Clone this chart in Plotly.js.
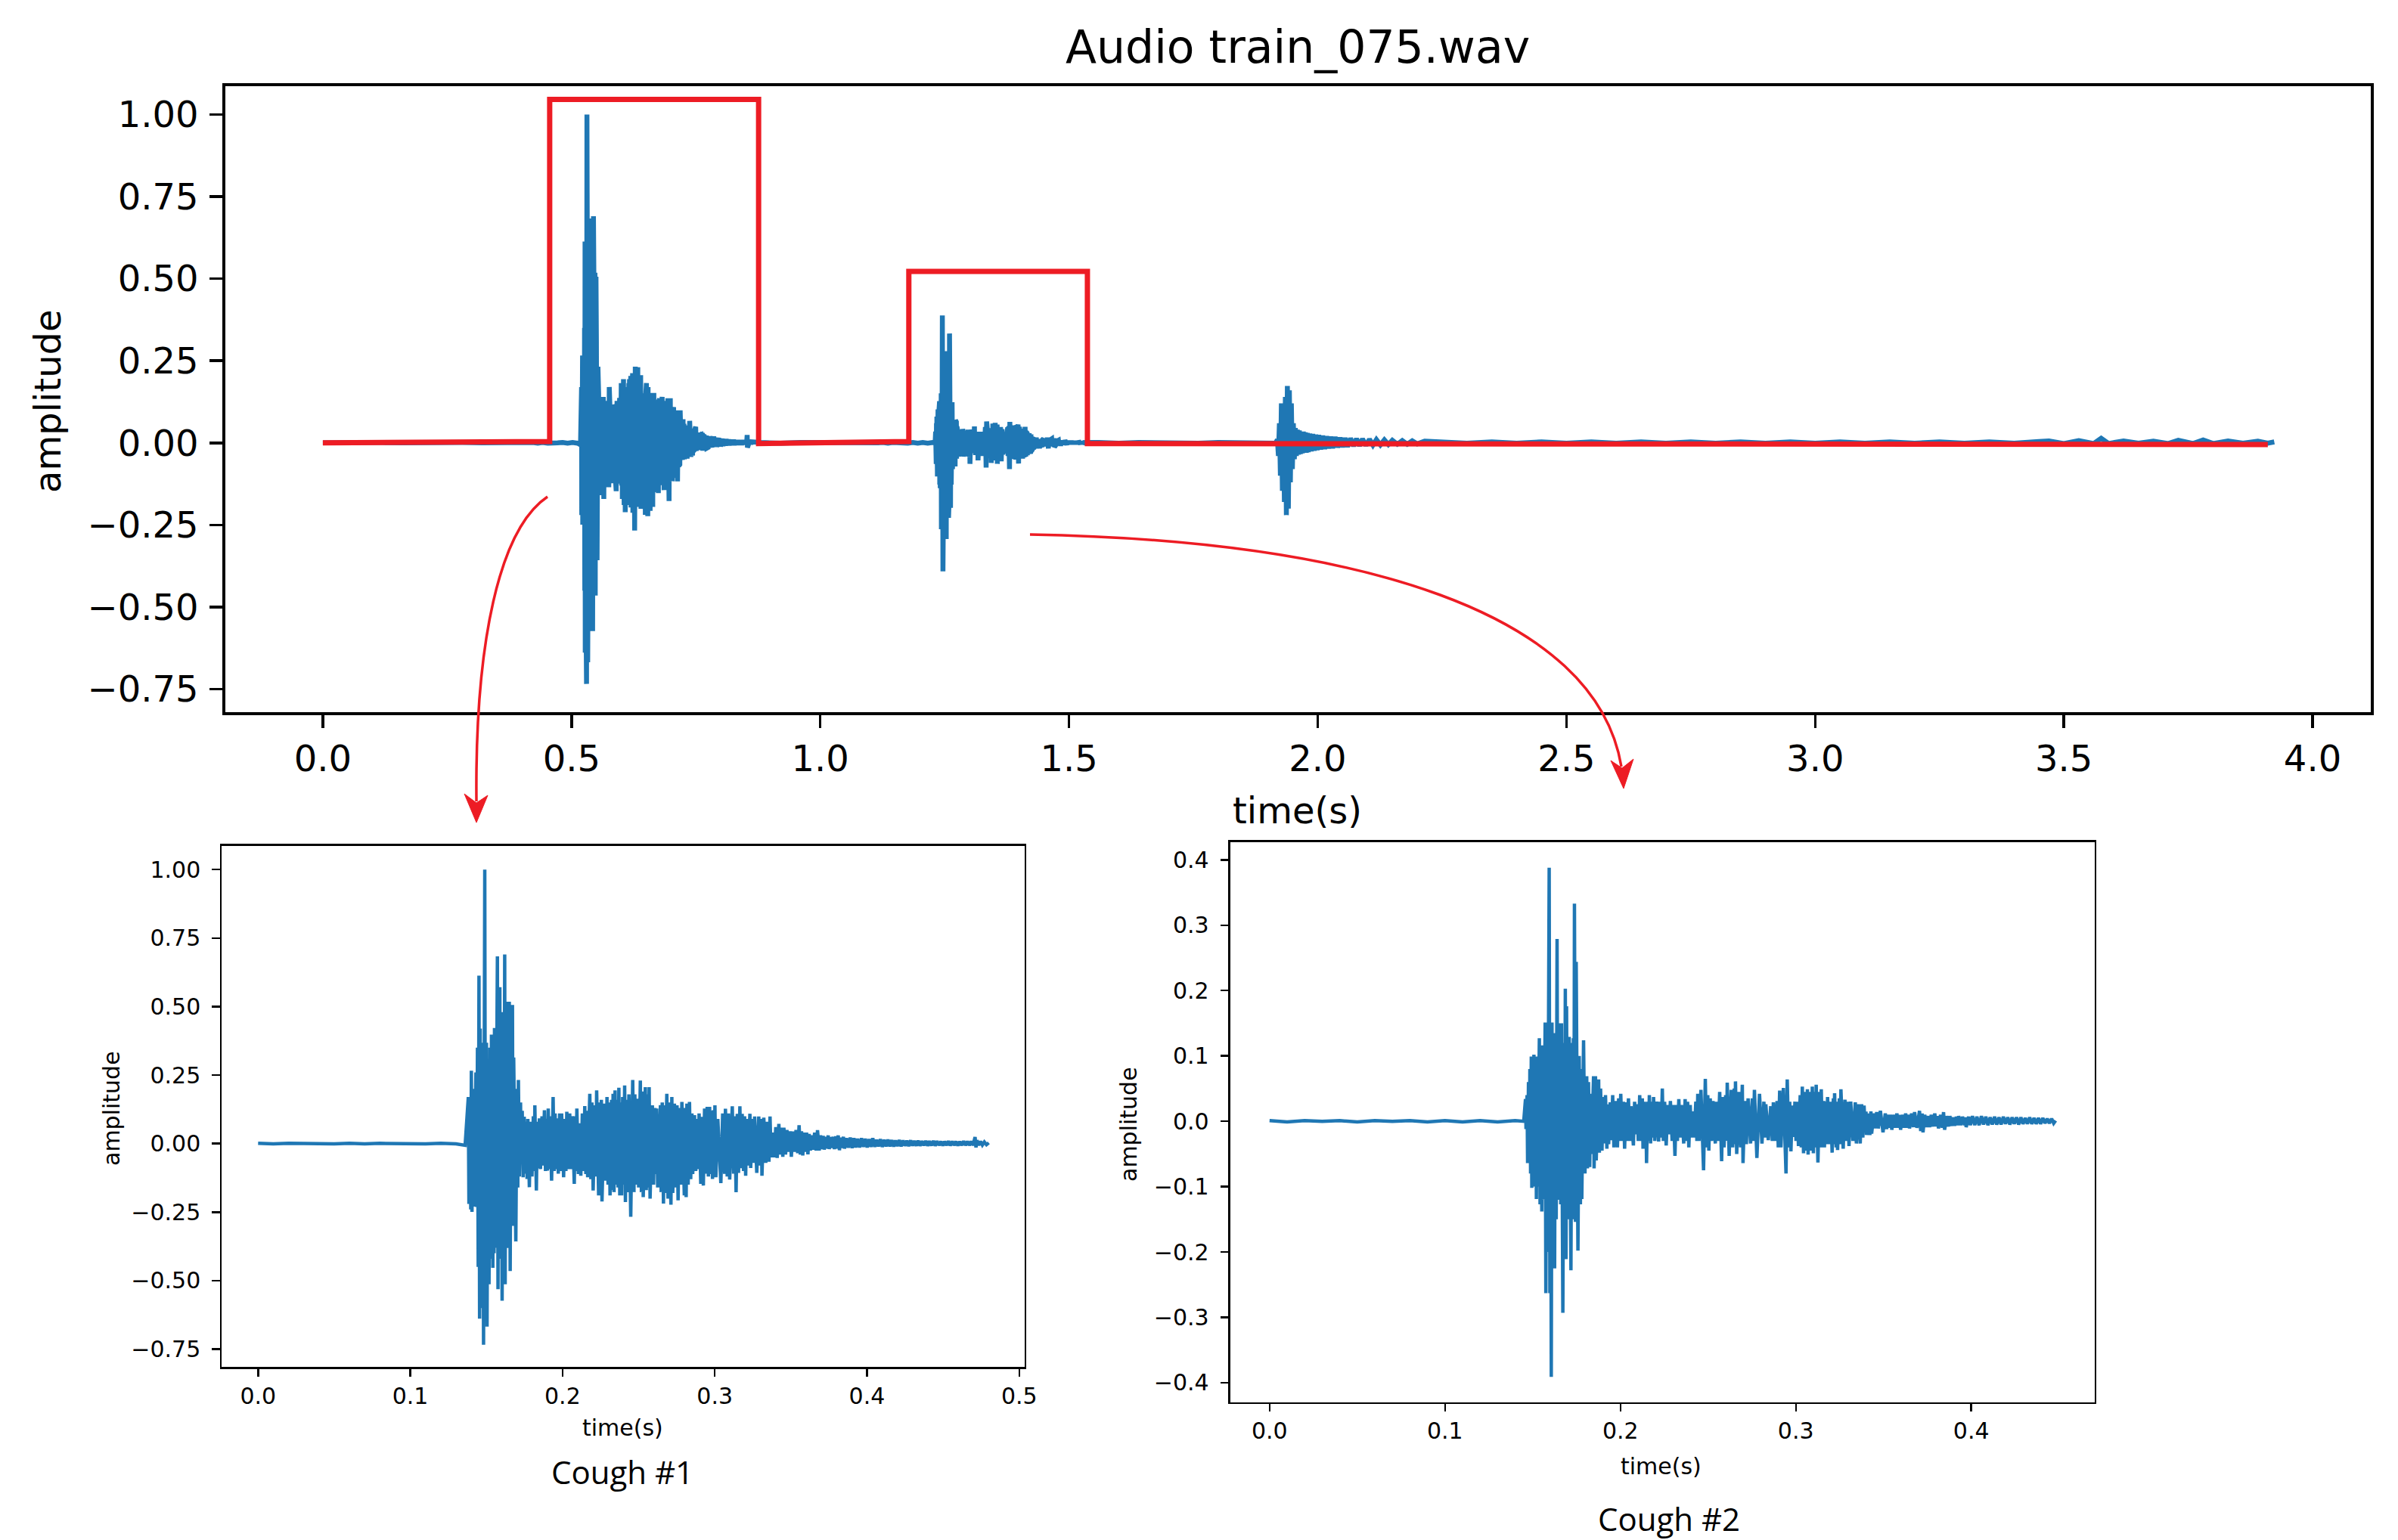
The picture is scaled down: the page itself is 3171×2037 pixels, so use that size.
<!DOCTYPE html>
<html>
<head>
<meta charset="utf-8">
<script src="https://cdn.plot.ly/plotly-3.0.1.min.js"></script>
<style>
  html, body { margin: 0; padding: 0; background: #fff; }
  #chart { width: 3171px; height: 2037px; }
</style>
</head>
<body>
<div id="chart"></div>
<script>
// ---- data ----

// cough #1 clip (seconds from clip start, amplitude)
const cough1Time = [
  0.000, 0.010, 0.020, 0.030, 0.040, 0.050, 0.060, 0.070, 0.080, 0.090,
  0.100, 0.110, 0.120, 0.130, 0.1360, 0.1381, 0.1385, 0.1393, 0.1397, 0.1401,
  0.1405, 0.1414, 0.1418, 0.1431, 0.1436, 0.1441, 0.1446, 0.1451, 0.1455, 0.1459,
  0.1463, 0.1467, 0.1474, 0.1477, 0.1481, 0.1489, 0.1494, 0.1500, 0.1504, 0.1510,
  0.1517, 0.1523, 0.1530, 0.1533, 0.1542, 0.1546, 0.1550, 0.1553, 0.1560, 0.1572,
  0.1576, 0.1580, 0.1584, 0.1588, 0.1592, 0.1597, 0.1603, 0.1610, 0.1615, 0.1620,
  0.1623, 0.1628, 0.1633, 0.1640, 0.1646, 0.1650, 0.1656, 0.1663, 0.1668, 0.1671,
  0.1675, 0.1679, 0.1693, 0.1700, 0.1706, 0.1710, 0.1716, 0.1724, 0.1728, 0.1735,
  0.1741, 0.1748, 0.1756, 0.1762, 0.1767, 0.1772, 0.1782, 0.1790, 0.1799, 0.1808,
  0.1815, 0.1818, 0.1828, 0.1834, 0.1840, 0.1848, 0.1855, 0.1865, 0.1872, 0.1881,
  0.1888, 0.1895, 0.1900, 0.1906, 0.1912, 0.1918, 0.1928, 0.1938, 0.1945, 0.1951,
  0.1958, 0.1964, 0.1972, 0.1981, 0.1988, 0.1994, 0.2007, 0.2015, 0.2022, 0.2028,
  0.2040, 0.2047, 0.2055, 0.2064, 0.2077, 0.2083, 0.2088, 0.2094, 0.2104, 0.2113,
  0.2120, 0.2130, 0.2138, 0.2146, 0.2153, 0.2160, 0.2165, 0.2179, 0.2186, 0.2193,
  0.2201, 0.2213, 0.2218, 0.2224, 0.2237, 0.2243, 0.2249, 0.2255, 0.2259, 0.2275,
  0.2285, 0.2292, 0.2299, 0.2306, 0.2312, 0.2322, 0.2328, 0.2332, 0.2338, 0.2345,
  0.2352, 0.2357, 0.2365, 0.2370, 0.2376, 0.2383, 0.2388, 0.2395, 0.2402, 0.2408,
  0.2413, 0.2420, 0.2425, 0.2436, 0.2448, 0.2461, 0.2469, 0.2475, 0.2481, 0.2494,
  0.2500, 0.2511, 0.2518, 0.2524, 0.2530, 0.2544, 0.2550, 0.2557, 0.2562, 0.2569,
  0.2575, 0.2590, 0.2598, 0.2607, 0.2612, 0.2618, 0.2625, 0.2643, 0.2648, 0.2655,
  0.2663, 0.2668, 0.2673, 0.2685, 0.2693, 0.2700, 0.2712, 0.2718, 0.2724, 0.2735,
  0.2745, 0.2752, 0.2759, 0.2768, 0.2776, 0.2784, 0.2800, 0.2805, 0.2812, 0.2817,
  0.2825, 0.2834, 0.2842, 0.2850, 0.2855, 0.2867, 0.2875, 0.2883, 0.2890, 0.2897,
  0.2908, 0.2916, 0.2925, 0.2933, 0.2941, 0.2950, 0.2958, 0.2966, 0.2972, 0.2978,
  0.2985, 0.2991, 0.2996, 0.3001, 0.3007, 0.3020, 0.3040, 0.3052, 0.3065, 0.3070,
  0.3082, 0.3090, 0.3098, 0.3115, 0.3124, 0.3131, 0.3140, 0.3148, 0.3156, 0.3165,
  0.3172, 0.3180, 0.3189, 0.3196, 0.3203, 0.3210, 0.3216, 0.3231, 0.3236, 0.3246,
  0.3256, 0.3262, 0.3276, 0.3289, 0.3296, 0.3305, 0.3310, 0.3322, 0.3335, 0.3342,
  0.3356, 0.3363, 0.3370, 0.3380, 0.3390, 0.3401, 0.3410, 0.3421, 0.3430, 0.3438,
  0.3447, 0.3454, 0.3465, 0.3474, 0.3483, 0.3496, 0.3503, 0.3512, 0.3522, 0.3534,
  0.3545, 0.3554, 0.3562, 0.3570, 0.3578, 0.3587, 0.3595, 0.3603, 0.3612, 0.3620,
  0.3628, 0.3637, 0.3647, 0.3656, 0.3666, 0.3675, 0.3686, 0.3695, 0.3703, 0.3712,
  0.3719, 0.3728, 0.3736, 0.3745, 0.3752, 0.3760, 0.3769, 0.3778, 0.3786, 0.3795,
  0.3802, 0.3811, 0.3819, 0.3828, 0.3835, 0.3845, 0.3852, 0.3865, 0.3877, 0.3890,
  0.3902, 0.3914, 0.3926, 0.3938, 0.3951, 0.3964, 0.3976, 0.3989, 0.4001, 0.4014,
  0.4026, 0.4038, 0.4051, 0.4063, 0.4075, 0.4088, 0.4100, 0.4113, 0.4125, 0.4138,
  0.4150, 0.4163, 0.4175, 0.4187, 0.4199, 0.4212, 0.4224, 0.4237, 0.4249, 0.4262,
  0.4274, 0.4287, 0.4299, 0.4311, 0.4324, 0.4336, 0.4348, 0.4361, 0.4373, 0.4386,
  0.4398, 0.4410, 0.4423, 0.4436, 0.4448, 0.4460, 0.4473, 0.4486, 0.4498, 0.4510,
  0.4523, 0.4535, 0.4547, 0.4560, 0.4572, 0.4585, 0.4597, 0.4610, 0.4622, 0.4635,
  0.4647, 0.4660, 0.4672, 0.4685, 0.4697, 0.4710, 0.4716, 0.4722, 0.4734, 0.4746,
  0.4758, 0.4771, 0.4785, 0.4800
];
const cough1Amp = [
  0.001, -0.001, 0.001, 0.000, 0.001, -0.001, 0.001, -0.001, 0.001, 0.000,
  0.001, -0.001, 0.001, -0.001, -0.006, 0.170, -0.220, 0.150, -0.240, 0.266,
  -0.249, 0.200, -0.230, 0.260, -0.231, 0.350, -0.450, 0.613, -0.639, 0.420,
  -0.510, 0.368, -0.600, 0.250, -0.734, 1.000, -0.620, 0.368, -0.668, 0.300,
  -0.513, 0.350, -0.420, 0.398, -0.453, 0.380, -0.400, 0.422, -0.380, 0.683,
  -0.531, 0.450, -0.420, 0.571, -0.405, 0.470, -0.573, 0.480, -0.450, 0.690,
  -0.513, 0.518, -0.381, 0.450, -0.369, 0.518, -0.465, 0.420, -0.300, 0.506,
  -0.300, 0.314, -0.357, 0.200, -0.160, 0.232, -0.120, 0.150, -0.075, 0.120,
  -0.123, 0.098, -0.110, 0.080, -0.129, 0.090, -0.159, 0.080, -0.120, 0.100,
  -0.100, 0.140, -0.171, 0.080, -0.090, 0.092, -0.093, 0.100, -0.080, 0.122,
  -0.100, 0.090, -0.099, 0.128, -0.093, 0.100, -0.135, 0.170, -0.100, 0.110,
  -0.093, 0.092, -0.110, 0.110, -0.100, 0.110, -0.123, 0.090, -0.100, 0.116,
  -0.093, 0.110, -0.093, 0.100, -0.147, 0.100, -0.100, 0.128, -0.111, 0.074,
  -0.117, 0.110, -0.100, 0.137, -0.111, 0.120, -0.123, 0.182, -0.130, 0.150,
  -0.171, 0.140, -0.120, 0.194, -0.189, 0.150, -0.160, 0.160, -0.211, 0.146,
  -0.135, 0.170, -0.150, 0.150, -0.189, 0.160, -0.170, 0.182, -0.177, 0.194,
  -0.150, 0.160, -0.160, 0.204, -0.189, 0.150, -0.189, 0.170, -0.150, 0.212,
  -0.213, 0.160, -0.177, 0.180, -0.267, 0.232, -0.177, 0.180, -0.150, 0.164,
  -0.160, 0.230, -0.177, 0.190, -0.195, 0.206, -0.170, 0.180, -0.160, 0.206,
  -0.201, 0.140, -0.150, 0.130, -0.111, 0.128, -0.160, 0.140, -0.177, 0.150,
  -0.219, 0.140, -0.180, 0.182, -0.201, 0.150, -0.223, 0.170, -0.180, 0.146,
  -0.160, 0.140, -0.207, 0.130, -0.150, 0.152, -0.189, 0.130, -0.195, 0.146,
  -0.150, 0.152, -0.130, 0.110, -0.111, 0.104, -0.100, 0.090, -0.093, 0.110,
  -0.147, 0.098, -0.153, 0.128, -0.110, 0.134, -0.120, 0.134, -0.111, 0.120,
  -0.129, 0.122, -0.110, 0.140, -0.123, 0.090, -0.144, 0.110, -0.110, 0.127,
  -0.120, 0.110, -0.131, 0.136, -0.110, 0.100, -0.177, 0.109, -0.107, 0.136,
  -0.090, 0.109, -0.100, 0.100, -0.117, 0.090, -0.080, 0.109, -0.089, 0.090,
  -0.070, 0.099, -0.107, 0.099, -0.080, 0.090, -0.117, 0.095, -0.070, 0.080,
  -0.066, 0.099, -0.050, 0.040, -0.050, 0.060, -0.052, 0.072, -0.040, 0.058,
  -0.048, 0.058, -0.040, 0.050, -0.030, 0.045, -0.048, 0.044, -0.030, 0.050,
  -0.035, 0.067, -0.040, 0.045, -0.043, 0.040, -0.030, 0.040, -0.039, 0.035,
  -0.025, 0.030, -0.022, 0.040, -0.025, 0.049, -0.025, 0.030, -0.020, 0.028,
  -0.022, 0.025, -0.018, 0.030, -0.020, 0.024, -0.016, 0.025, -0.020, 0.027,
  -0.018, 0.030, -0.024, 0.022, -0.016, 0.025, -0.018, 0.020, -0.015, 0.022,
  -0.016, 0.020, -0.014, 0.018, -0.014, 0.020, -0.012, 0.018, -0.014, 0.016,
  -0.012, 0.020, -0.012, 0.014, -0.010, 0.016, -0.012, 0.014, -0.010, 0.015,
  -0.010, 0.013, -0.011, 0.012, -0.009, 0.013, -0.010, 0.012, -0.008, 0.011,
  -0.009, 0.012, -0.008, 0.010, -0.008, 0.011, -0.008, 0.009, -0.007, 0.010,
  -0.008, 0.009, -0.007, 0.010, -0.008, 0.009, -0.006, 0.008, -0.007, 0.008,
  -0.006, 0.009, -0.007, 0.008, -0.006, 0.008, -0.007, 0.007, -0.006, 0.009,
  -0.006, 0.008, -0.006, 0.008, -0.006, 0.024, -0.014, 0.012, -0.006, 0.008,
  -0.005, 0.006, -0.004, 0.003
];

// cough #2 clip
const cough2Time = [
  0.000, 0.010, 0.020, 0.030, 0.040, 0.050, 0.060, 0.070, 0.080, 0.090,
  0.100, 0.110, 0.120, 0.130, 0.140, 0.1449, 0.1459, 0.1462, 0.1468, 0.1471,
  0.1476, 0.1481, 0.1484, 0.1488, 0.1492, 0.1495, 0.1500, 0.1504, 0.1507, 0.1512,
  0.1518, 0.1521, 0.1525, 0.1529, 0.1538, 0.1542, 0.1546, 0.1552, 0.1556, 0.1562,
  0.1571, 0.1575, 0.1580, 0.1585, 0.1594, 0.1598, 0.1602, 0.1606, 0.1610, 0.1614,
  0.1621, 0.1625, 0.1629, 0.1634, 0.1639, 0.1643, 0.1646, 0.1650, 0.1655, 0.1660,
  0.1664, 0.1672, 0.1678, 0.1682, 0.1686, 0.1690, 0.1693, 0.1698, 0.1708, 0.1718,
  0.1723, 0.1727, 0.1732, 0.1735, 0.1738, 0.1744, 0.1748, 0.1758, 0.1765, 0.1772,
  0.1776, 0.1780, 0.1790, 0.1798, 0.1808, 0.1812, 0.1818, 0.1825, 0.1830, 0.1834,
  0.1847, 0.1850, 0.1858, 0.1862, 0.1876, 0.1880, 0.1887, 0.1895, 0.1902, 0.1908,
  0.1915, 0.1923, 0.1928, 0.1933, 0.1942, 0.1948, 0.1956, 0.1963, 0.1971, 0.1983,
  0.1990, 0.1995, 0.2002, 0.2010, 0.2017, 0.2024, 0.2031, 0.2037, 0.2046, 0.2053,
  0.2060, 0.2074, 0.2081, 0.2088, 0.2095, 0.2102, 0.2110, 0.2118, 0.2125, 0.2129,
  0.2135, 0.2142, 0.2145, 0.2149, 0.2155, 0.2160, 0.2165, 0.2172, 0.2179, 0.2185,
  0.2189, 0.2196, 0.2206, 0.2218, 0.2225, 0.2232, 0.2239, 0.2245, 0.2252, 0.2261,
  0.2270, 0.2278, 0.2285, 0.2295, 0.2301, 0.2311, 0.2318, 0.2325, 0.2333, 0.2340,
  0.2348, 0.2361, 0.2369, 0.2376, 0.2383, 0.2390, 0.2398, 0.2405, 0.2412, 0.2420,
  0.2430, 0.2436, 0.2441, 0.2448, 0.2459, 0.2474, 0.2484, 0.2491, 0.2498, 0.2504,
  0.2512, 0.2520, 0.2528, 0.2541, 0.2548, 0.2556, 0.2566, 0.2577, 0.2584, 0.2591,
  0.2600, 0.2605, 0.2609, 0.2620, 0.2632, 0.2640, 0.2649, 0.2653, 0.2656, 0.2663,
  0.2675, 0.2685, 0.2695, 0.2699, 0.2709, 0.2718, 0.2728, 0.2742, 0.2752, 0.2758,
  0.2764, 0.2778, 0.2793, 0.2807, 0.2818, 0.2825, 0.2829, 0.2843, 0.2857, 0.2866,
  0.2872, 0.2880, 0.2893, 0.2900, 0.2908, 0.2915, 0.2929, 0.2944, 0.2951, 0.2960,
  0.2965, 0.2972, 0.2980, 0.2987, 0.2995, 0.3001, 0.3008, 0.3015, 0.3025, 0.3031,
  0.3037, 0.3044, 0.3055, 0.3060, 0.3066, 0.3070, 0.3080, 0.3088, 0.3094, 0.3100,
  0.3108, 0.3112, 0.3116, 0.3126, 0.3135, 0.3140, 0.3145, 0.3152, 0.3159, 0.3163,
  0.3170, 0.3176, 0.3181, 0.3190, 0.3198, 0.3207, 0.3214, 0.3218, 0.3221, 0.3230,
  0.3234, 0.3238, 0.3248, 0.3252, 0.3257, 0.3270, 0.3280, 0.3289, 0.3297, 0.3303,
  0.3313, 0.3326, 0.3339, 0.3345, 0.3355, 0.3367, 0.3375, 0.3382, 0.3389, 0.3396,
  0.3400, 0.3403, 0.3415, 0.3422, 0.3428, 0.3432, 0.3445, 0.3453, 0.3461, 0.3470,
  0.3482, 0.3497, 0.3510, 0.3518, 0.3526, 0.3535, 0.3540, 0.3547, 0.3560, 0.3568,
  0.3576, 0.3588, 0.3592, 0.3597, 0.3610, 0.3618, 0.3626, 0.3637, 0.3642, 0.3648,
  0.3660, 0.3670, 0.3677, 0.3690, 0.3705, 0.3712, 0.3720, 0.3725, 0.3735, 0.3745,
  0.3756, 0.3762, 0.3772, 0.3782, 0.3792, 0.3802, 0.3808, 0.3813, 0.3825, 0.3835,
  0.3842, 0.3848, 0.3860, 0.3870, 0.3878, 0.3890, 0.3899, 0.3905, 0.3915, 0.3921,
  0.3928, 0.3940, 0.3950, 0.3962, 0.3966, 0.3971, 0.3985, 0.3995, 0.4007, 0.4020,
  0.4032, 0.4045, 0.4058, 0.4070, 0.4083, 0.4095, 0.4108, 0.4120, 0.4133, 0.4145,
  0.4158, 0.4170, 0.4183, 0.4195, 0.4208, 0.4220, 0.4233, 0.4245, 0.4258, 0.4270,
  0.4283, 0.4295, 0.4308, 0.4320, 0.4333, 0.4345, 0.4358, 0.4370, 0.4383, 0.4395,
  0.4408, 0.4420, 0.4433, 0.4445, 0.4458, 0.4470, 0.4481
];
const cough2Amp = [
  0.001, -0.001, 0.001, 0.000, 0.001, -0.001, 0.001, 0.000, 0.001, -0.001,
  0.001, -0.001, 0.001, -0.001, 0.001, 0.000, 0.034, -0.012, 0.040, -0.064,
  0.060, -0.050, 0.080, -0.080, 0.099, -0.102, 0.090, -0.100, 0.102, -0.090,
  0.080, -0.119, 0.099, -0.100, 0.127, -0.127, 0.100, -0.138, 0.116, -0.120,
  0.151, -0.263, 0.150, -0.200, 0.388, -0.263, 0.150, -0.391, 0.151, -0.223,
  0.135, -0.225, 0.135, -0.150, 0.279, -0.120, 0.150, -0.108, 0.124, -0.127,
  0.150, -0.293, 0.120, -0.150, 0.203, -0.211, 0.176, -0.150, 0.129, -0.228,
  0.120, -0.130, 0.127, -0.150, 0.333, -0.154, 0.244, -0.198, 0.100, -0.127,
  0.080, -0.119, 0.124, -0.080, 0.069, -0.072, 0.060, -0.070, 0.042, -0.050,
  0.069, -0.072, 0.069, -0.060, 0.064, -0.048, 0.050, -0.045, 0.037, -0.034,
  0.040, -0.042, 0.026, -0.035, 0.029, -0.029, 0.040, -0.040, 0.031, -0.040,
  0.035, -0.030, 0.042, -0.030, 0.030, -0.042, 0.029, -0.030, 0.035, -0.030,
  0.023, -0.037, 0.030, -0.020, 0.026, -0.030, 0.040, -0.030, 0.035, -0.042,
  0.030, -0.030, 0.025, -0.064, 0.030, -0.030, 0.040, -0.034, 0.030, -0.025,
  0.037, -0.030, 0.030, -0.031, 0.030, -0.025, 0.050, -0.030, 0.030, -0.037,
  0.025, -0.020, 0.031, -0.030, 0.025, -0.053, 0.025, -0.030, 0.034, -0.025,
  0.025, -0.034, 0.034, -0.030, 0.030, -0.040, 0.025, -0.025, 0.015, -0.025,
  0.030, -0.030, 0.042, -0.030, 0.048, -0.075, 0.065, -0.040, 0.040, -0.045,
  0.035, -0.030, 0.031, -0.034, 0.030, -0.030, 0.045, -0.061, 0.037, -0.040,
  0.040, -0.030, 0.059, -0.053, 0.048, -0.040, 0.050, -0.035, 0.061, -0.050,
  0.045, -0.040, 0.056, -0.064, 0.031, -0.035, 0.035, -0.034, 0.035, -0.030,
  0.048, -0.056, 0.042, -0.034, 0.030, -0.025, 0.026, -0.029, 0.023, -0.030,
  0.029, -0.030, 0.031, -0.040, 0.047, -0.040, 0.051, -0.080, 0.064, -0.040,
  0.030, -0.046, 0.024, -0.024, 0.030, -0.030, 0.030, -0.038, 0.040, -0.040,
  0.053, -0.049, 0.045, -0.045, 0.049, -0.051, 0.045, -0.045, 0.053, -0.049,
  0.045, -0.040, 0.056, -0.063, 0.045, -0.040, 0.049, -0.040, 0.031, -0.040,
  0.030, -0.035, 0.037, -0.035, 0.030, -0.048, 0.035, -0.035, 0.043, -0.040,
  0.030, -0.044, 0.035, -0.035, 0.049, -0.042, 0.033, -0.030, 0.030, -0.038,
  0.030, -0.030, 0.029, -0.034, 0.026, -0.034, 0.026, -0.025, 0.024, -0.015,
  0.015, -0.021, 0.012, -0.021, 0.015, -0.019, 0.012, -0.011, 0.014, -0.011,
  0.016, -0.017, 0.012, -0.012, 0.010, -0.010, 0.010, -0.013, 0.010, -0.010,
  0.012, -0.010, 0.010, -0.013, 0.010, -0.010, 0.012, -0.010, 0.010, -0.011,
  0.012, -0.009, 0.014, -0.010, 0.016, -0.015, 0.012, -0.017, 0.010, -0.009,
  0.008, -0.009, 0.010, -0.008, 0.012, -0.008, 0.008, -0.011, 0.010, -0.010,
  0.014, -0.013, 0.008, -0.008, 0.008, -0.007, 0.006, -0.007, 0.007, -0.006,
  0.008, -0.006, 0.007, -0.006, 0.006, -0.009, 0.007, -0.006, 0.008, -0.006,
  0.007, -0.006, 0.008, -0.005, 0.007, -0.006, 0.006, -0.005, 0.007, -0.005,
  0.006, -0.005, 0.007, -0.004, 0.006, -0.005, 0.006, -0.004, 0.006, -0.005,
  0.006, -0.004, 0.005, -0.004, 0.006, -0.004, 0.005, -0.004, 0.005, -0.004,
  0.005, -0.003, 0.004, -0.003, 0.004, -0.003, 0.001
];

// where each clip sits in the full recording (s)
const cough1Start = 0.382;
const cough2Start = 1.086;

// quiet stretches and the third (uncut) cough of the full recording
const leadTime = [0.00, 0.04, 0.08, 0.12, 0.16, 0.20, 0.24, 0.28, 0.32, 0.36];
const leadAmp = [0.000, 0.001, -0.001, 0.001, 0.000, 0.001, -0.001, 0.001, 0.000, 0.001];
const gap1Time = [0.880, 0.920, 0.960, 1.000, 1.040, 1.075];
const gap1Amp = [0.001, -0.001, 0.001, 0.000, 0.001, -0.001];
const gap2Time = [1.560, 1.600, 1.640, 1.680, 1.720, 1.760, 1.800, 1.840, 1.880];
const gap2Amp = [0.001, -0.001, 0.001, 0.000, 0.001, -0.001, 0.001, 0.000, 0.001];
const blipTime = [
  1.900, 1.915, 1.919, 1.921, 1.923, 1.925, 1.927, 1.929, 1.931, 1.933,
  1.935, 1.937, 1.939, 1.941, 1.943, 1.945, 1.947, 1.949, 1.951, 1.953,
  1.955, 1.957, 1.959, 1.961, 1.963, 1.965, 1.967, 1.969, 1.971, 1.973,
  1.975, 1.977, 1.979, 1.981, 1.984, 1.987, 1.990, 1.993, 1.996, 1.999,
  2.002, 2.006, 2.010, 2.014, 2.018, 2.022, 2.026, 2.030, 2.035, 2.040,
  2.045, 2.050, 2.055, 2.060, 2.066, 2.072, 2.078, 2.084, 2.090, 2.097,
  2.104, 2.111, 2.118, 2.126, 2.134, 2.142, 2.150, 2.160, 2.170, 2.180,
  2.190, 2.200, 2.215
];
const blipAmp = [
  0.001, -0.001, 0.010, -0.040, 0.060, -0.100, 0.120, -0.146, 0.100, -0.180,
  0.140, -0.220, 0.173, -0.200, 0.160, -0.120, 0.120, -0.080, 0.060, -0.050,
  0.045, -0.040, 0.040, -0.036, 0.038, -0.034, 0.034, -0.032, 0.034, -0.030,
  0.032, -0.030, 0.030, -0.028, 0.028, -0.026, 0.027, -0.024, 0.025, -0.022,
  0.024, -0.020, 0.022, -0.019, 0.020, -0.017, 0.019, -0.016, 0.018, -0.014,
  0.016, -0.013, 0.015, -0.012, 0.014, -0.010, 0.013, -0.009, 0.012, -0.008,
  0.011, -0.007, 0.010, -0.006, 0.009, -0.005, 0.008, -0.004, 0.007, -0.004,
  0.006, -0.003, 0.005
];
const tailTime = [
  2.25, 2.30, 2.35, 2.40, 2.45, 2.50, 2.55, 2.60, 2.65, 2.70,
  2.75, 2.80, 2.85, 2.90, 2.95, 3.00, 3.05, 3.10, 3.15, 3.20,
  3.25, 3.30, 3.35, 3.40, 3.45, 3.47, 3.50, 3.53, 3.56, 3.575,
  3.59, 3.62, 3.65, 3.68, 3.71, 3.73, 3.76, 3.78, 3.80, 3.83,
  3.86, 3.89, 3.91, 3.923
];
const tailAmp = [
  0.003, -0.001, 0.003, -0.001, 0.003, -0.001, 0.003, -0.001, 0.003, -0.001,
  0.003, -0.001, 0.003, -0.001, 0.003, -0.001, 0.003, -0.001, 0.003, -0.001,
  0.003, -0.001, 0.003, -0.001, 0.004, 0.006, -0.002, 0.007, -0.002, 0.014,
  -0.002, 0.006, -0.001, 0.005, -0.002, 0.008, -0.002, 0.009, -0.002, 0.006,
  -0.001, 0.005, -0.001, 0.003
];

// hand-drawn red selection boxes on the full recording
const boxStart = [0.456, 1.178];
const boxEnd = [0.876, 1.537];
const boxTop = [1.046, 0.522];
const markerEnd = 3.91;

// ---- page geometry ----
const W = 3171;
const H = 2037;
const BLUE = "#1f77b4";
const RED = "#ed1c24";
const fx = (p) => p / W;
const fy = (p) => 1 - p / H;

[["cough1", cough1Time, cough1Amp], ["cough2", cough2Time, cough2Amp],
 ["blip", blipTime, blipAmp], ["tail", tailTime, tailAmp]].forEach(([n, t, a]) => {
  if (t.length !== a.length) throw new Error(n + " length mismatch " + t.length + " vs " + a.length);
});

// full recording = quiet lead + clip 1 + gap + clip 2 + gap + third cough + tail
const fullTime = [].concat(
  leadTime,
  cough1Time.map((t) => t + cough1Start),
  gap1Time,
  cough2Time.map((t) => t + cough2Start),
  gap2Time,
  blipTime,
  tailTime
);
const fullAmp = [].concat(leadAmp, cough1Amp, gap1Amp, cough2Amp, gap2Amp, blipAmp, tailAmp);

// red outline: baseline that steps up around each selected cough
const boxX = [0];
const boxY = [0];
boxStart.forEach((s, i) => {
  boxX.push(s, s, boxEnd[i], boxEnd[i]);
  boxY.push(0.004, boxTop[i], boxTop[i], -0.002);
});
boxX.push(markerEnd);
boxY.push(-0.005);

const traces = [
  {
    x: fullTime, y: fullAmp, xaxis: "x", yaxis: "y",
    type: "scatter", mode: "lines",
    line: { color: BLUE, width: 6.5 }, hoverinfo: "skip"
  },
  {
    x: boxX, y: boxY, xaxis: "x", yaxis: "y",
    type: "scatter", mode: "lines",
    line: { color: RED, width: 7 }, hoverinfo: "skip"
  },
  {
    x: cough1Time, y: cough1Amp, xaxis: "x2", yaxis: "y2",
    type: "scatter", mode: "lines",
    line: { color: BLUE, width: 4.5 }, hoverinfo: "skip"
  },
  {
    x: cough2Time, y: cough2Amp, xaxis: "x3", yaxis: "y3",
    type: "scatter", mode: "lines",
    line: { color: BLUE, width: 4.5 }, hoverinfo: "skip"
  }
];

function axis(big, extra) {
  return Object.assign({
    showline: true,
    mirror: true,
    linecolor: "#000",
    linewidth: big ? 3.8 : 2.4,
    ticks: "outside",
    ticklen: big ? 17 : 10.5,
    tickwidth: big ? 3.5 : 2.4,
    tickcolor: "#000",
    showgrid: false,
    zeroline: false,
    fixedrange: true,
    tickfont: { family: "DejaVu Sans", size: big ? 48 : 30, color: "#000" }
  }, extra);
}

function label(text, x, y, size, extra) {
  return Object.assign({
    text, xref: "paper", yref: "paper",
    x: fx(x), y: fy(y), xanchor: "center", yanchor: "middle",
    showarrow: false,
    font: { family: "DejaVu Sans", size, color: "#000" }
  }, extra);
}

const annotations = [
  label("Audio train_075.wav", 1716, 62, 60),
  label("amplitude", 63, 531, 48, { textangle: -90 }),
  label("time(s)", 1715, 1072, 48),
  label("amplitude", 147, 1466, 30, { textangle: -90 }),
  label("time(s)", 824, 1888, 30),
  label("Cough #1", 823, 1946, 42, { font: { family: "Open Sans", size: 42, color: "#000" } }),
  label("amplitude", 1492, 1487, 30, { textangle: -90 }),
  label("time(s)", 2196, 1939, 30),
  label("Cough #2", 2207, 2008, 42, { font: { family: "Open Sans", size: 42, color: "#000" } })
];

// curved arrows from the full recording down to each clip
function pt(x, y) { return fx(x).toFixed(5) + "," + fy(y).toFixed(5); }
const shapes = [
  {
    type: "path", xref: "paper", yref: "paper",
    path: "M" + pt(724, 657) + " C" + pt(660, 700) + " " + pt(628, 850) + " " + pt(630, 1060),
    line: { color: RED, width: 3.5 }
  },
  {
    type: "path", xref: "paper", yref: "paper",
    path: "M" + pt(614, 1050) + " L" + pt(630, 1088) + " L" + pt(645, 1052) + " L" + pt(630, 1062) + " Z",
    fillcolor: RED, line: { color: RED, width: 1 }
  },
  {
    type: "path", xref: "paper", yref: "paper",
    path: "M" + pt(1362, 707) + " C" + pt(1800, 715) + " " + pt(2110, 810) + " " + pt(2144, 1014),
    line: { color: RED, width: 3.5 }
  },
  {
    type: "path", xref: "paper", yref: "paper",
    path: "M" + pt(2130, 1006) + " L" + pt(2147, 1043) + " L" + pt(2160, 1004) + " L" + pt(2145, 1016) + " Z",
    fillcolor: RED, line: { color: RED, width: 1 }
  }
];

const layout = {
  width: W,
  height: H,
  margin: { l: 0, r: 0, t: 0, b: 0 },
  paper_bgcolor: "#fff",
  plot_bgcolor: "#fff",
  showlegend: false,
  xaxis: axis(true, {
    domain: [fx(298), fx(3135)], range: [-0.196, 4.117], anchor: "y",
    dtick: 0.5, tick0: 0, tickformat: ".1f"
  }),
  yaxis: axis(true, {
    domain: [fy(942), fy(113.6)], range: [-0.82, 1.087], anchor: "x",
    dtick: 0.25, tick0: 0, tickformat: ".2f", ticklabelstandoff: 5
  }),
  xaxis2: axis(false, {
    domain: [fx(293.2), fx(1354.6)], range: [-0.0239, 0.5034], anchor: "y2",
    dtick: 0.1, tick0: 0, tickformat: ".1f"
  }),
  yaxis2: axis(false, {
    domain: [fy(1808.1), fy(1118.5)], range: [-0.8149, 1.0874], anchor: "x2",
    dtick: 0.25, tick0: 0, tickformat: ".2f", ticklabelstandoff: 9
  }),
  xaxis3: axis(false, {
    domain: [fx(1626.6), fx(2770)], range: [-0.0225, 0.4704], anchor: "y3",
    dtick: 0.1, tick0: 0, tickformat: ".1f"
  }),
  yaxis3: axis(false, {
    domain: [fy(1854.5), fy(1113.6)], range: [-0.4296, 0.4275], anchor: "x3",
    dtick: 0.1, tick0: 0, tickformat: ".1f", ticklabelstandoff: 9
  }),
  annotations,
  shapes
};

Plotly.newPlot("chart", traces, layout, { staticPlot: true, displayModeBar: false });
</script>
</body>
</html>
